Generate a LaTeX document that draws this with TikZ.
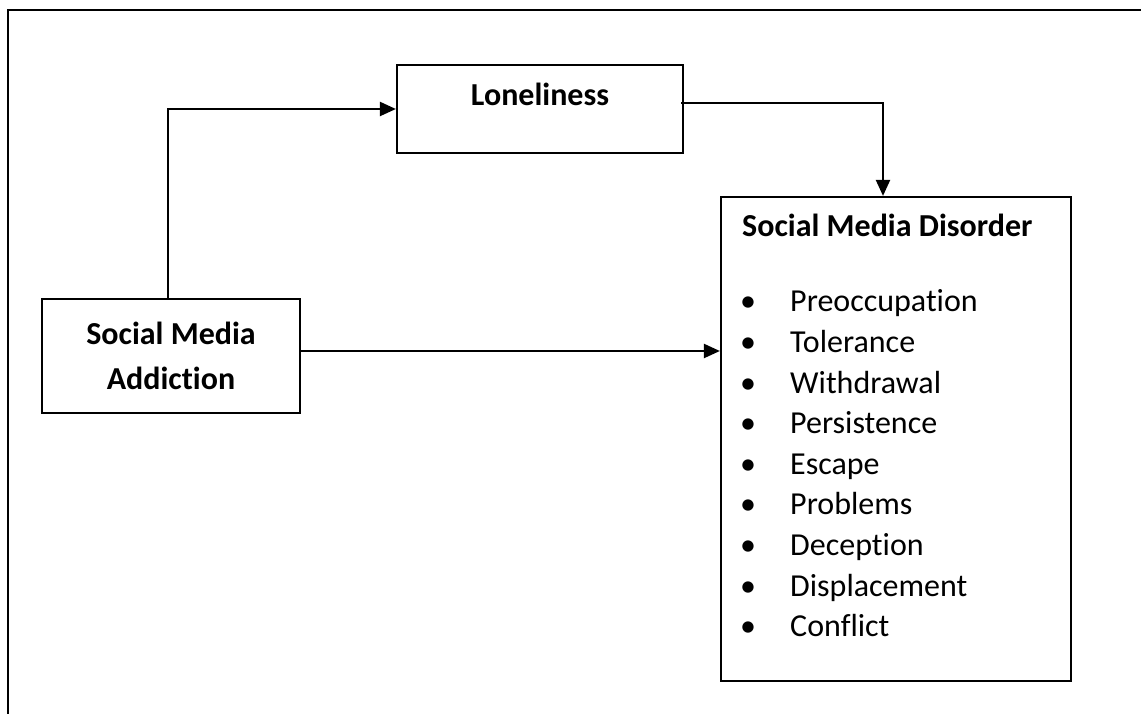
\documentclass[tikz,border=0pt]{standalone}
\usepackage{fontspec}
\setmainfont{Carlito}[Ligatures=NoCommon]
\usetikzlibrary{arrows.meta}
\begin{document}
\begin{tikzpicture}[x=1pt,y=1pt,
    every node/.style={font=\fontsize{32}{45}\selectfont},
    box/.style={draw,line width=2.2pt,inner sep=0pt},
    bold/.style={font=\fontsize{32}{45}\selectfont\bfseries},
    link/.style={line width=2.2pt,-{Triangle[length=16pt,width=14pt]}}]
    \useasboundingbox (0,0) rectangle (1141,713);
    % outer frame
    \draw[line width=2.4pt] (8,-5) -- (8,703) -- (1150,703);
    % boxes
    \node[box,minimum width=286,minimum height=88] (lone) at (540,604) {};
    \node[bold,anchor=base,inner sep=0pt] (lonetxt) at (540,607) {Loneliness};
    \node[box,bold,minimum width=258,minimum height=114,align=center] (sma) at (171,357) {Social Media\\Addiction};
    \node[box,minimum width=350,minimum height=484] (smd) at (896,274) {};
    \node[bold,anchor=base west,inner sep=0pt] (smdtxt) at (742,476) {Social Media Disorder};
    \foreach \item [count=\i from 0] in {Preoccupation,Tolerance,Withdrawal,Persistence,Escape,Problems,Deception,Displacement,Conflict}{
        \node[anchor=base,inner sep=0pt] (dot\i) at (748,401-40.6*\i) {\textbullet};
        \node[anchor=base west,inner sep=0pt] (item\i) at (790,401-40.6*\i) {\item};
    }
    % connectors
    \draw[link] ([xshift=-3pt]sma.north) |- (lone.west);
    \draw[link] ([xshift=-3pt,yshift=6pt]lone.east) -| ([xshift=-13pt]smd.north);
    \draw[link] ([yshift=5pt]sma.east) -- ([yshift=5pt]sma.east -| smd.west);
\end{tikzpicture}
\end{document}
